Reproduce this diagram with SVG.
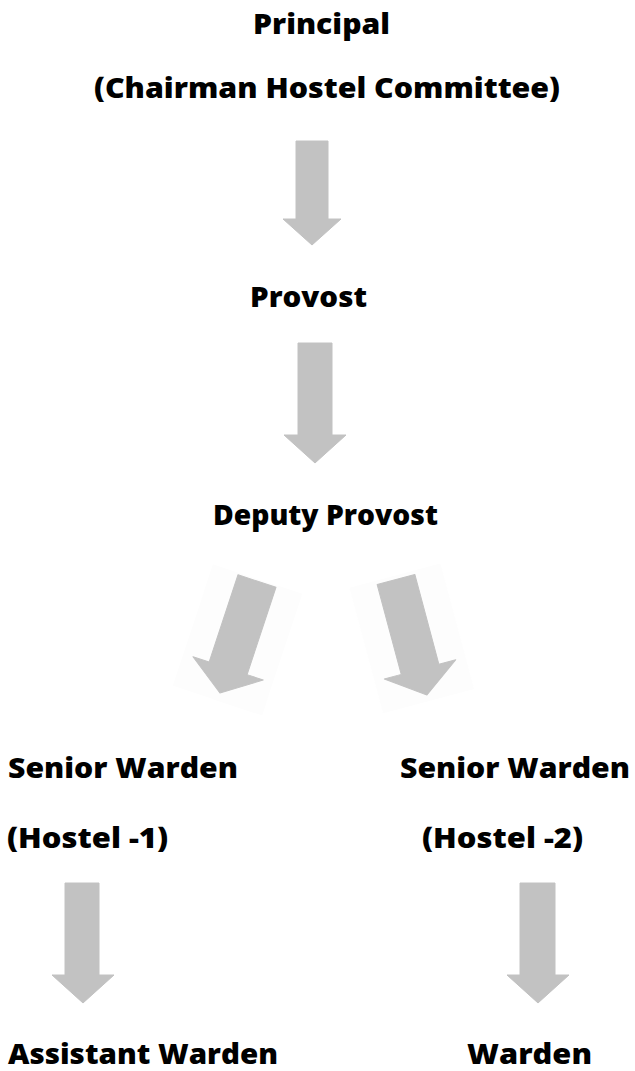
<svg xmlns="http://www.w3.org/2000/svg" width="635" height="1071" viewBox="0 0 635 1071">
  <style>
    .t { font-family: "Open Sans", "Liberation Sans", sans-serif; font-weight: 800; font-size: 29px; fill: #000; }
    .arr { fill: #c2c2c2; stroke: #c2c2c2; stroke-width: 1; stroke-linejoin: round; }
    .bg { fill: #fdfdfd; }
  </style>
  <rect width="635" height="1071" fill="#ffffff"/>
  <g id="connectors">
    <polygon class="arr" points="296,141 328,141 328,219 341,219 312,245 283,219 296,219"/>
    <polygon class="arr" points="298,343 332,343 332,435 346,435 315,463 284,435 298,435"/>
    <g transform="translate(257,581) rotate(18.3)">
      <rect class="bg" x="-47" y="-2" width="94" height="128"/>
      <polygon class="arr" points="-20,0 20,0 20,92 37,92 0,118 -37,92 -20,92"/>
    </g>
    <g transform="translate(396,579.5) rotate(-15)">
      <rect class="bg" x="-47" y="-4" width="94" height="130"/>
      <polygon class="arr" points="-19.5,0 19.5,0 19.5,93 37,93 0,119.5 -37,93 -19.5,93"/>
    </g>
    <polygon class="arr" points="65,883 99,883 99,975 114,975 83,1003 52,975 65,975"/>
    <polygon class="arr" points="520,883 555,883 555,975 569,975 538,1003 507,975 520,975"/>
  </g>
  <g id="principal">
    <text class="t" x="253" y="34" textLength="137" lengthAdjust="spacingAndGlyphs">Principal</text>
    <text class="t" x="94" y="98" textLength="466" lengthAdjust="spacingAndGlyphs">(Chairman Hostel Committee)</text>
  </g>
  <g id="provost">
    <text class="t" x="250" y="307" textLength="117" lengthAdjust="spacingAndGlyphs">Provost</text>
  </g>
  <g id="deputy-provost">
    <text class="t" x="213" y="525" textLength="225" lengthAdjust="spacingAndGlyphs">Deputy Provost</text>
  </g>
  <g id="senior-warden-1">
    <text class="t" x="8" y="778" textLength="230" lengthAdjust="spacingAndGlyphs">Senior Warden</text>
    <text class="t" x="7" y="848" textLength="161" lengthAdjust="spacingAndGlyphs">(Hostel -1)</text>
  </g>
  <g id="senior-warden-2">
    <text class="t" x="400" y="778" textLength="230" lengthAdjust="spacingAndGlyphs">Senior Warden</text>
    <text class="t" x="422" y="848" textLength="161" lengthAdjust="spacingAndGlyphs">(Hostel -2)</text>
  </g>
  <g id="assistant-warden">
    <text class="t" x="8" y="1064" textLength="270" lengthAdjust="spacingAndGlyphs">Assistant Warden</text>
  </g>
  <g id="warden">
    <text class="t" x="467" y="1064" textLength="125" lengthAdjust="spacingAndGlyphs">Warden</text>
  </g>
</svg>
